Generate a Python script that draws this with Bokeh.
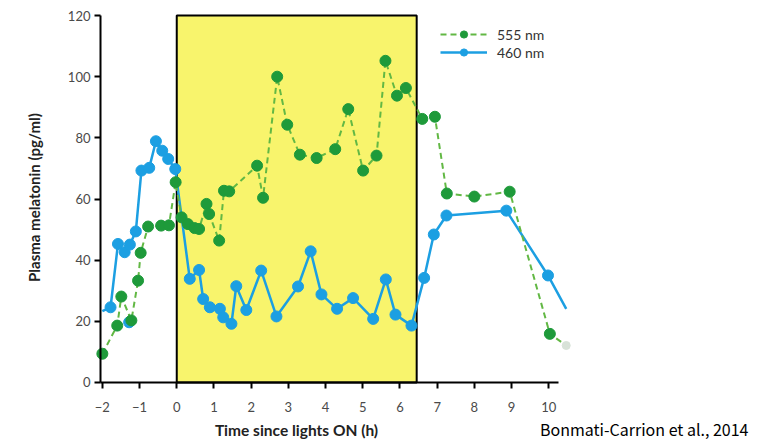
import math
from bokeh.plotting import figure
from bokeh.models import (FixedTicker, Label, Legend, LegendItem, Range1d)
from bokeh.embed import file_html
from bokeh.resources import INLINE

# Time since lights ON (h) and plasma melatonin (pg/ml)
blue_t = [-2.0, -1.78, -1.58, -1.40, -1.26, -1.10, -0.95, -0.74, -0.56, -0.39, -0.23, -0.04,
          0.35, 0.60, 0.71, 0.89, 1.16, 1.25, 1.47, 1.60, 1.87, 2.27, 2.68, 3.26, 3.60, 3.89,
          4.31, 4.74, 5.28, 5.62, 5.88, 6.31, 6.65, 6.91, 7.25, 8.86, 9.98, 10.47]
blue_v = [23.3, 24.6, 45.3, 42.6, 45.1, 49.4, 69.3, 70.2, 78.9, 75.8, 73.1, 69.8,
          33.9, 36.8, 27.3, 24.6, 24.1, 21.3, 19.2, 31.5, 23.7, 36.6, 21.6, 31.4, 42.9, 28.8,
          24.1, 27.6, 20.8, 33.7, 22.2, 18.6, 34.2, 48.4, 54.6, 56.2, 35.0, 24.1]
# isolated 460 nm sample that is not joined to the curve
blue_extra_t = [-1.28]
blue_extra_v = [19.7]

green_t = [-2.0, -1.60, -1.49, -1.22, -1.04, -0.97, -0.77, -0.42, -0.21, -0.03, 0.13, 0.30,
           0.48, 0.60, 0.80, 0.87, 1.14, 1.27, 1.41, 2.16, 2.32, 2.70, 2.97, 3.31, 3.76, 4.26,
           4.61, 5.01, 5.37, 5.61, 5.92, 6.16, 6.60, 6.94, 7.26, 8.0, 8.95, 10.03, 10.47]
green_v = [9.4, 18.6, 28.1, 20.3, 33.3, 42.4, 51.0, 51.3, 51.4, 65.5, 54.0, 51.8,
           50.5, 50.2, 58.4, 55.1, 46.4, 62.7, 62.5, 70.9, 60.4, 100.0, 84.3, 74.5, 73.4, 76.3,
           89.4, 69.3, 74.2, 105.2, 93.8, 96.3, 86.2, 86.9, 61.8, 60.8, 62.4, 15.9, 12.1]

lights_on = 0.0
lights_off = 6.45
x_ticks = list(range(-2, 11))
y_ticks = [0, 20, 40, 60, 80, 100, 120]

GREEN_LINE = "#62B844"
GREEN_DOT = "#1E9A3A"
BLUE = "#1C9FE2"
FONT = "Lato"

# the frame fills the whole canvas; axes sit at fixed data positions inside it
p = figure(width=764, height=440, output_backend="svg", toolbar_location=None,
           x_range=Range1d(-4.738, 15.80), y_range=Range1d(-18.97, 124.92),
           min_border=0)
p.outline_line_color = None
p.xgrid.visible = False
p.ygrid.visible = False
p.background_fill_color = "white"
p.border_fill_color = "white"

# lights-on period
p.quad(left=[lights_on], right=[lights_off], bottom=[0], top=[120],
       fill_color="#F8F46C", line_color="black", line_width=2)

# 460 nm
blue_line = p.line(blue_t, blue_v, line_color=BLUE, line_width=2.5)
blue_dots = p.scatter(blue_t[1:-1], blue_v[1:-1], size=11, fill_color=BLUE, line_color=BLUE)
p.scatter(blue_extra_t, blue_extra_v, size=11, fill_color=BLUE, line_color=BLUE)

# 555 nm
green_line = p.line(green_t, green_v, line_color=GREEN_LINE, line_width=2, line_dash="6 4")
green_dots = p.scatter(green_t[:-1], green_v[:-1], size=11, fill_color=GREEN_DOT, line_color=GREEN_DOT)
p.scatter(green_t[-1:], green_v[-1:], size=8, fill_color="#D8E2D8", line_color="#D8E2D8")

# axes
xa = p.xaxis[0]
xa.ticker = FixedTicker(ticks=x_ticks)
xa.bounds = (-2.05, 10.25)
xa.fixed_location = 0
ya = p.yaxis[0]
ya.ticker = FixedTicker(ticks=y_ticks)
ya.bounds = (0, 120)
ya.fixed_location = -2.05
for ax in (xa, ya):
    ax.axis_line_color = "black"
    ax.axis_line_width = 2
    ax.major_tick_line_color = "black"
    ax.major_tick_line_width = 2
    ax.major_tick_out = 6
    ax.major_tick_in = 0
    ax.minor_tick_line_color = None
    ax.major_label_text_font = FONT
    ax.major_label_text_font_size = "13px"
    ax.major_label_text_color = "#4a4a4a"
xa.major_label_standoff = 14
ya.major_label_standoff = 4

# axis titles and source note (screen units, measured from the bottom-left)
p.add_layout(Label(x=33, y=243, x_units="screen", y_units="screen", angle=math.pi / 2,
                   text="Plasma melatonin (pg/ml)", text_font=FONT, text_font_style="bold",
                   text_font_size="15px", text_color="#222222",
                   text_align="center", text_baseline="middle"))
p.add_layout(Label(x=296, y=11, x_units="screen", y_units="screen",
                   text="Time since lights ON (h)", text_font=FONT, text_font_style="bold",
                   text_font_size="15.5px", text_color="#222222",
                   text_align="center", text_baseline="middle"))
p.add_layout(Label(x=748, y=12, x_units="screen", y_units="screen",
                   text="Bonmati-Carrion et al., 2014", text_font="Noto Sans CJK JP",
                   text_font_size="16px", text_color="black",
                   text_align="right", text_baseline="middle"))

legend = Legend(items=[LegendItem(label="555 nm", renderers=[green_line, green_dots]),
                       LegendItem(label="460 nm", renderers=[blue_line, blue_dots])],
                location=(440, 379), orientation="vertical",
                glyph_width=47, glyph_height=18, label_height=18, label_standoff=10,
                spacing=0, padding=0, margin=0,
                background_fill_alpha=0, border_line_color=None,
                label_text_font=FONT, label_text_font_size="14px", label_text_color="#333333")
p.add_layout(legend)

open("out.html", "w").write(file_html(p, INLINE))
